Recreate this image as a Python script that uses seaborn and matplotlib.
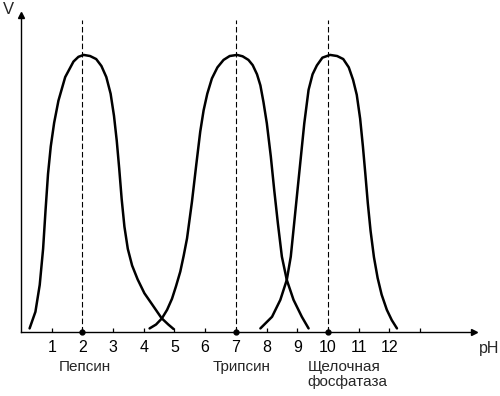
import numpy as np
import pandas as pd
import matplotlib
matplotlib.use('Agg')
import matplotlib.pyplot as plt
import seaborn as sns

# points (pH, relative rate V)
pepsin_ph = [0.28, 0.47, 0.61, 0.72, 0.80, 0.88, 0.97, 1.08, 1.22, 1.44, 1.71, 1.87, 2.04,
             2.25, 2.45, 2.62, 2.78, 2.92, 3.03, 3.12, 3.20, 3.28, 3.37, 3.48, 3.62,
             3.80, 4.02, 4.27, 4.58, 4.80, 4.97]
pepsin_v = [0.013, 0.073, 0.17, 0.30, 0.44, 0.57, 0.67, 0.755, 0.835, 0.92, 0.976, 0.993, 1.0,
            0.996, 0.985, 0.96, 0.92, 0.86, 0.78, 0.69, 0.59, 0.48, 0.38, 0.30, 0.24,
            0.19, 0.14, 0.10, 0.05, 0.027, 0.011]

trypsin_ph = [4.19, 4.40, 4.59, 4.76, 4.92, 5.05, 5.19, 5.30, 5.41, 5.57, 5.71, 5.84, 5.95,
              6.07, 6.22, 6.40, 6.60, 6.80, 7.04, 7.22, 7.41, 7.55, 7.69, 7.80, 7.90,
              8.01, 8.14, 8.25, 8.37, 8.50, 8.66, 8.88, 9.15, 9.37]
trypsin_v = [0.013, 0.027, 0.049, 0.08, 0.12, 0.165, 0.218, 0.275, 0.338, 0.47, 0.603, 0.723, 0.80,
             0.86, 0.915, 0.955, 0.982, 0.996, 1.0, 0.995, 0.982, 0.963, 0.93, 0.89, 0.83,
             0.753, 0.633, 0.513, 0.392, 0.272, 0.188, 0.116, 0.055, 0.013]

phosph_ph = [7.80, 8.18, 8.45, 8.66, 8.79, 8.90, 9.01, 9.12, 9.23, 9.37, 9.50, 9.64, 9.82,
             10.07, 10.30, 10.50, 10.68, 10.82, 10.94, 11.05, 11.14, 11.22, 11.30, 11.39,
             11.50, 11.62, 11.75, 11.92, 12.08, 12.25]
phosph_v = [0.013, 0.055, 0.116, 0.188, 0.272, 0.392, 0.513, 0.633, 0.753, 0.874, 0.93, 0.962, 0.99,
            1.0, 0.996, 0.985, 0.955, 0.91, 0.856, 0.77, 0.67, 0.57, 0.465, 0.365,
            0.27, 0.195, 0.135, 0.08, 0.043, 0.013]

optima = [2, 7, 10]
enzyme_names = ['Пепсин', 'Трипсин', 'Щелочная\nфосфатаза']
name_x = [2.09, 7.2, 9.33]
name_ha = ['center', 'center', 'left']

tick_pos = list(range(1, 14))
tick_labels = [str(i) for i in range(1, 13)] + ['']

df = pd.concat([
    pd.DataFrame({'pH': pepsin_ph, 'V': pepsin_v, 'enzyme': 'pepsin'}),
    pd.DataFrame({'pH': trypsin_ph, 'V': trypsin_v, 'enzyme': 'trypsin'}),
    pd.DataFrame({'pH': phosph_ph, 'V': phosph_v, 'enzyme': 'phosph'}),
])

sns.set_style('white')
plt.rcParams['font.family'] = ['Liberation Sans', 'DejaVu Sans']

fig = plt.figure(figsize=(5, 3.96), dpi=100)
ax = fig.add_axes([0.042, 0.1616, 0.906, 0.8005])

# dashed lines at optimum pH
for p in optima:
    ax.axvline(p, ymin=0, ymax=0.984, color='black', lw=0.8, ls=(0, (5, 2.5)))
ax.plot(optima, [0] * len(optima), 'o', color='black', ms=3.5, clip_on=False, zorder=5)

sns.lineplot(data=df, x='pH', y='V', hue='enzyme', palette=['black'] * 3,
             sort=False, estimator=None, legend=False, lw=1.8, ax=ax)
for l in ax.lines:
    l.set_solid_joinstyle('round')

ax.set_xlim(0, 14.76)
ax.set_ylim(0, 1.144)
sns.despine(ax=ax)
for s in ['left', 'bottom']:
    ax.spines[s].set_linewidth(1.0)
    ax.spines[s].set_color('black')

# arrow heads
ax.plot(1, 0, '>', color='black', ms=4, transform=ax.transAxes, clip_on=False)
ax.plot(0, 1, '^', color='black', ms=4, transform=ax.transAxes, clip_on=False)

ax.set_xticks(tick_pos)
ax.set_xticklabels(tick_labels, fontsize=11.5)
ax.set_yticks([])
ax.tick_params(axis='x', direction='in', length=3, width=0.9, pad=6, colors='black', bottom=True)
ax.set_xlabel('')
ax.set_ylabel('')

for nm, xx, ha in zip(enzyme_names, name_x, name_ha):
    ax.text(xx, -0.1, nm, ha=ha, va='top', fontsize=11, linespacing=1.1, clip_on=False)

fig.text(499 / 500, 1 - 348 / 396, 'pH', ha='right', va='center', fontsize=11.5)
fig.text(8.7 / 500, 1 - 10 / 396, 'V', ha='center', va='center', fontsize=12)

fig.savefig('out.png', dpi=100)
